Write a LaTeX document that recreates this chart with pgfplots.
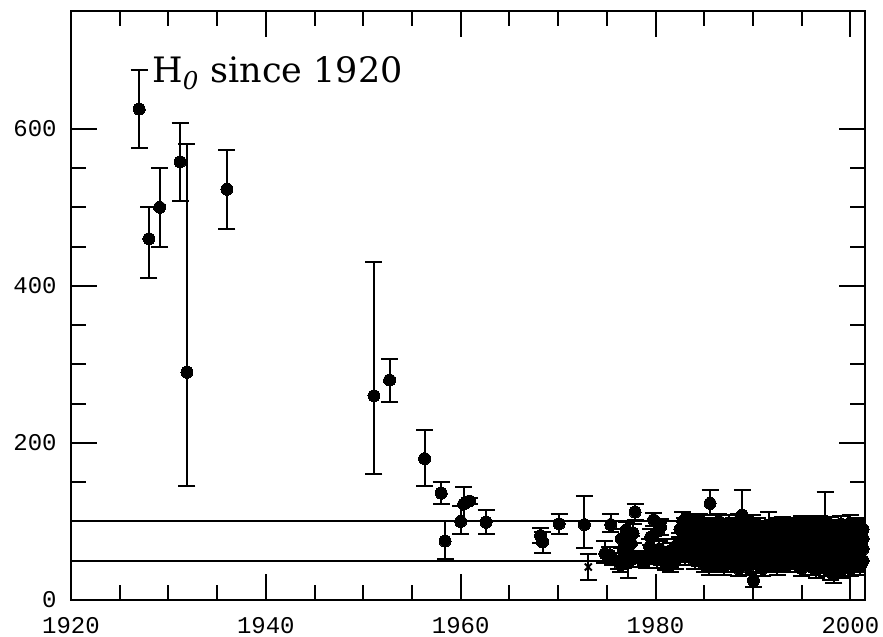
\documentclass[border=0pt]{standalone}
\usepackage{fontspec}
\setmainfont{DejaVu Serif}
\newfontfamily\tickfont{Liberation Mono}
\usepackage{pgfplots}
\usepackage{pgfplotstable}
\pgfplotsset{compat=1.18}

% H0 estimates with errors (plus, minus)
\pgfplotstableread{
x y ep em
1927.0 625 50 50
1928.0 460 40 50
1929.1 500 50 50
1931.2 558 50 50
1931.9 290 290 145
1936.0 523 50 50
1951.1 260 170 100
1952.7 280 27 28
1956.3 180 36 35
1958.0 136 14 14
1958.4 75 25 23
1960.0 100 20 16
1960.3 122 22 22
1960.9 126 4 4
1962.6 99 15 15
1968.2 82 10 10
1968.4 74 12 14
1970.1 97 13 13
1972.7 96 36 30
1974.8 59 16 12
1975.3 57 10 10
1975.4 96 14 10
1975.6 52 8 8
1976.2 50 10 10
1976.4 45 10 10
1976.5 78 12 12
1976.7 65 10 10
1977.0 89 10 10
1977.2 47 12 19
1977.3 60 10 10
1977.5 72 10 10
1977.6 52 10 10
1977.7 85 12 12
1977.9 112 10 10
1978.2 55 8 8
1978.6 50 8 8
1979.1 51 10 10
1979.4 68 10 10
1979.5 80 10 10
1979.7 58 10 10
1979.8 102 9 8
1980.1 51 10 10
1980.3 88 10 10
1980.4 65 10 10
1980.5 93 10 10
1980.7 55 8 8
}\early

\pgfplotstableread{
x y ep em
1981.0 48 10 10
1981.0 58 10 10
1981.5 52 10 10
1981.5 62 10 10
1981.5 45 10 10
1982.0 55 10 10
1982.0 50 10 10
1982.0 68 10 10
1982.5 60 10 10
1982.5 75 10 10
1982.5 90 10 10
1982.8 100 12 10
1983.0 55 10 10
1983.0 70 10 10
1983.0 85 10 10
1983.0 95 10 10
1983.5 62 10 10
1983.5 80 10 10
1983.5 92 10 10
1983.5 100 10 10
1984.0 50 10 10
1984.0 68 10 10
1984.0 88 10 10
1984.0 97 10 10
1984.5 55 10 10
1984.5 75 10 10
1984.5 90 10 10
1984.5 100 10 10
1985.0 45 10 10
1985.0 60 10 10
1985.0 72 10 10
1985.0 85 10 10
1985.0 98 10 10
1985.5 42 10 10
1985.5 55 10 10
1985.5 68 10 10
1985.5 80 10 10
1985.5 95 10 10
1985.6 123 17 15
1986.0 45 10 10
1986.0 58 10 10
1986.0 70 10 10
1986.0 82 10 10
1986.0 95 10 10
1986.5 48 10 10
1986.5 62 10 10
1986.5 75 10 10
1986.5 88 10 10
1986.5 100 10 10
1987.0 42 10 10
1987.0 55 10 10
1987.0 68 10 10
1987.0 80 10 10
1987.0 92 10 10
1987.5 50 10 10
1987.5 62 10 10
1987.5 75 10 10
1987.5 88 10 10
1987.5 98 10 10
1988.0 45 10 10
1988.0 58 10 10
1988.0 70 10 10
1988.0 85 10 10
1988.0 95 10 10
1988.5 40 10 10
1988.5 52 10 10
1988.5 65 10 10
1988.5 78 10 10
1988.5 90 10 10
1988.5 100 10 10
1988.9 108 32 10
1989.0 48 10 10
1989.0 60 10 10
1989.0 72 10 10
1989.0 85 10 10
1989.0 96 10 10
1989.5 42 10 10
1989.5 55 10 10
1989.5 68 10 10
1989.5 80 10 10
1989.5 92 10 10
1990.05 25 9 9
1990.0 50 10 10
1990.0 62 10 10
1990.0 75 10 10
1990.0 88 10 10
1990.0 98 10 10
1990.5 45 10 10
1990.5 58 10 10
1990.5 70 10 10
1990.5 82 10 10
1990.5 95 10 10
1991.0 40 10 10
1991.0 52 10 10
1991.0 65 10 10
1991.0 78 10 10
1991.0 90 10 10
1991.5 48 10 10
1991.5 60 10 10
1991.5 72 10 10
1991.5 85 10 10
1991.6 95 17 10
1992.0 45 10 10
1992.0 55 10 10
1992.0 68 10 10
1992.0 80 10 10
1992.0 92 10 10
1992.5 42 10 10
1992.5 58 10 10
1992.5 70 10 10
1992.5 82 10 10
1992.5 95 10 10
1993.0 48 10 10
1993.0 60 10 10
1993.0 75 10 10
1993.0 88 10 10
1993.0 96 10 10
1993.5 45 10 10
1993.5 55 10 10
1993.5 68 10 10
1993.5 80 10 10
1993.5 92 10 10
1994.0 50 10 10
1994.0 62 10 10
1994.0 75 10 10
1994.0 85 10 10
1994.0 95 10 10
1994.5 45 10 10
1994.5 58 10 10
1994.5 70 10 10
1994.5 82 10 10
1994.5 94 10 10
1995.0 40 10 10
1995.0 52 10 10
1995.0 65 10 10
1995.0 78 10 10
1995.0 90 10 10
1995.0 97 10 10
1995.5 48 10 10
1995.5 60 10 10
1995.5 72 10 10
1995.5 85 10 10
1995.5 95 10 10
1996.0 42 10 10
1996.0 55 10 10
1996.0 68 10 10
1996.0 80 10 10
1996.0 92 10 10
1996.5 38 10 10
1996.5 50 10 10
1996.5 62 10 10
1996.5 75 10 10
1996.5 88 10 10
1996.5 97 10 10
1997.0 45 10 10
1997.0 58 10 10
1997.0 70 10 10
1997.0 82 10 10
1997.0 95 10 10
1997.4 100 38 10
1997.5 40 10 10
1997.5 52 10 10
1997.5 65 10 10
1997.5 78 10 10
1997.5 90 10 10
1998.0 35 10 10
1998.0 48 10 10
1998.0 60 10 10
1998.0 72 10 10
1998.0 85 10 10
1998.0 96 10 10
1998.3 33 10 11
1998.5 42 10 10
1998.5 55 10 10
1998.5 68 10 10
1998.5 80 10 10
1998.5 92 10 10
1999.0 38 10 10
1999.0 50 10 10
1999.0 62 10 10
1999.0 75 10 10
1999.0 88 10 10
1999.0 97 10 10
1999.5 44 10 10
1999.5 56 10 10
1999.5 68 10 10
1999.5 80 10 10
1999.5 92 10 10
2000.0 40 10 10
2000.0 52 10 10
2000.0 65 10 10
2000.0 78 10 10
2000.0 90 10 10
2000.0 98 10 10
2000.5 45 10 10
2000.5 58 10 10
2000.5 70 10 10
2000.5 82 10 10
2000.5 95 10 10
2001.0 42 10 10
2001.0 55 10 10
2001.0 68 10 10
2001.0 80 10 10
2001.0 92 10 10
2001.3 50 10 10
2001.3 65 10 10
2001.3 78 10 10
2001.3 90 10 10
}\recent

\pgfplotsset{
  hzero/.style={
    only marks, mark=*, mark size=3pt, black,
    mark options={fill=black, line width=0pt},
    error bars/.cd, y dir=both, y explicit,
    error bar style={line width=1pt, black},
    error mark options={rotate=90, mark size=4.25pt, line width=1pt, black}
  }
}

\begin{document}
\begin{tikzpicture}
\begin{axis}[
  scale only axis,
  width=397pt, height=294.5pt,
  xmin=1920, xmax=2001.5, ymin=0, ymax=750,
  xtick={1920,1940,...,2000}, ytick={0,200,400,600},
  minor x tick num=3, minor y tick num=3,
  tick align=inside,
  major tick length=13pt, minor tick length=7.5pt,
  every tick/.style={black, line width=1pt},
  axis line style={line width=1pt},
  ticklabel style={font=\tickfont\fontsize{12}{12}\selectfont, inner sep=0pt},
  xticklabel style={yshift=-8.5pt},
  yticklabel style={xshift=-7pt},
  /pgf/number format/1000 sep={},
  /pgf/number format/assume math mode=true,
]
\addplot[black, line width=1pt, forget plot] coordinates {(1920,100) (2001.5,100)};
\addplot[black, line width=1pt, forget plot] coordinates {(1920,50) (2001.5,50)};

\addplot[hzero] table[x=x, y=y, y error plus=ep, y error minus=em] {\early};
\addplot[hzero] table[x=x, y=y, y error plus=ep, y error minus=em] {\recent};
% small marker near 1973
\addplot[only marks, mark=x, mark size=2.5pt, black, line width=1pt,
  error bars/.cd, y dir=both, y explicit,
  error bar style={line width=1pt, black},
  error mark options={rotate=90, mark size=4.25pt, line width=1pt, black}]
  coordinates {(1973.1,42) +- (0,17)};

\node[anchor=base west, inner sep=0pt, font=\fontsize{17.5}{17.5}\selectfont]
  at (axis cs:1928.3,658.6) {H\textsubscript{\textit{0}} since 1920};
\end{axis}
\pgfresetboundingbox
\path ([xshift=-35.5pt,yshift=-18.5pt]current axis.south west)
  rectangle ([xshift=9pt,yshift=5.5pt]current axis.north east);
\end{tikzpicture}
\end{document}
